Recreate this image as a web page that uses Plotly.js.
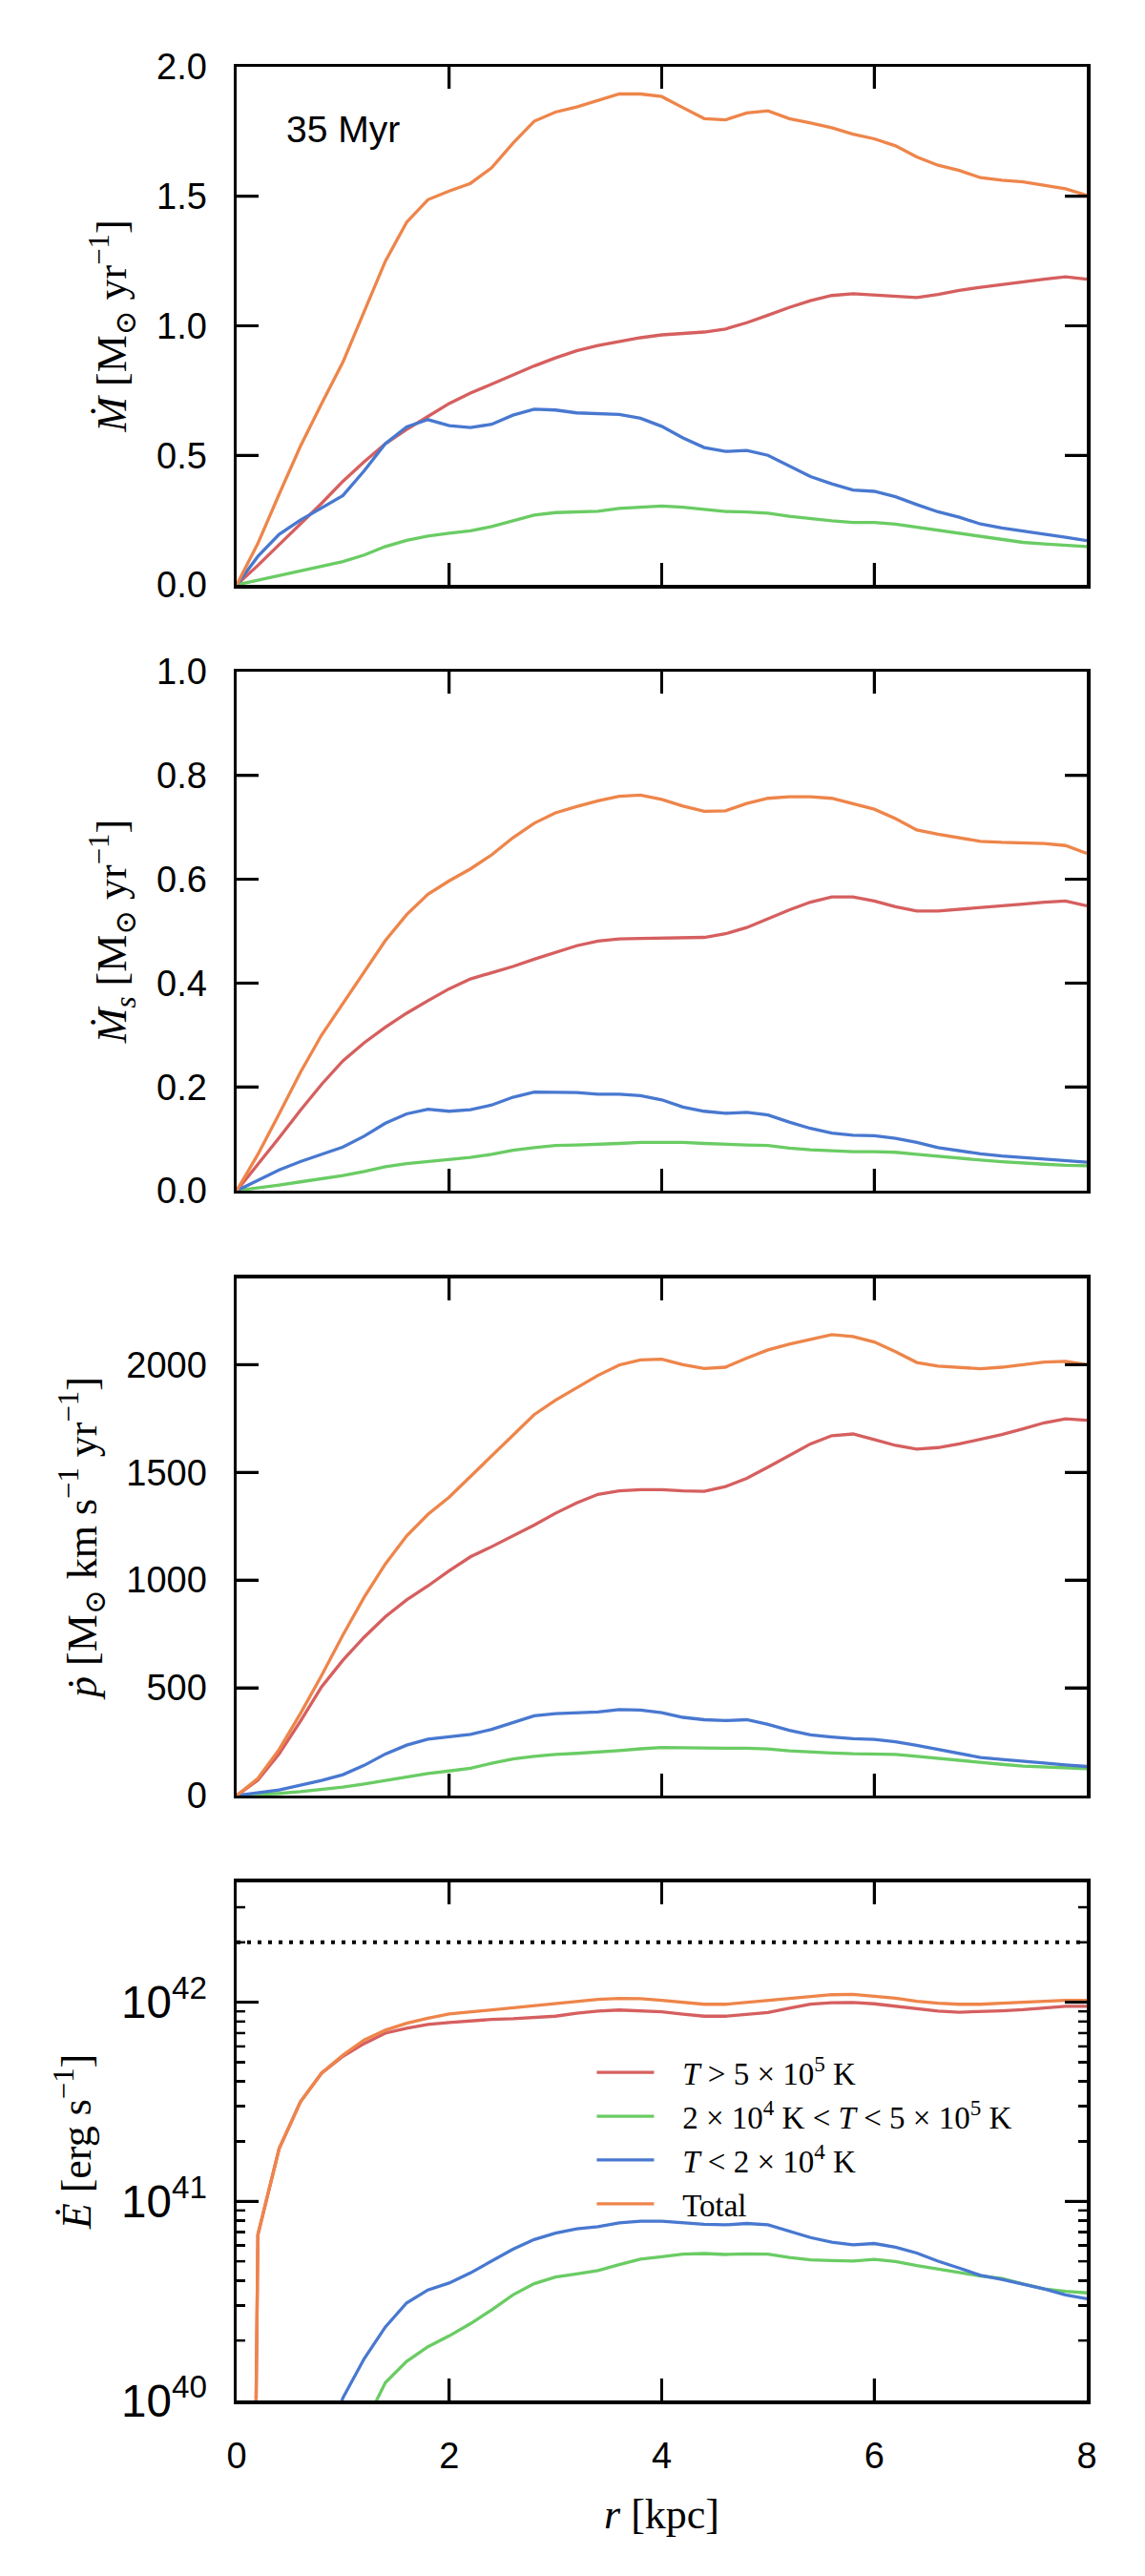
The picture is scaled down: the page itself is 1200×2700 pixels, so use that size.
<!DOCTYPE html>
<html>
<head>
<meta charset="utf-8">
<script src="https://cdn.plot.ly/plotly-3.0.1.min.js"></script>
<style>
  body { margin: 0; background: #fff; }
  #chart { width: 1200px; height: 2700px; }
</style>
</head>
<body>
<div id="chart"></div>
<script>
// radius grid shared by every panel [kpc]
var r = [0, 0.2, 0.4, 0.6, 0.8, 1.0, 1.2, 1.4, 1.6, 1.8, 2.0, 2.2, 2.4, 2.6, 2.8,
  3.0, 3.2, 3.4, 3.6, 3.8, 4.0, 4.2, 4.4, 4.6, 4.8, 5.0, 5.2, 5.4, 5.6, 5.8,
  6.0, 6.2, 6.4, 6.6, 6.8, 7.0, 7.2, 7.4, 7.6, 7.8, 8.0];

// mass outflow rate [Msun/yr]
var mdotHot = [0, 0.075, 0.155, 0.235, 0.315, 0.40, 0.475, 0.545, 0.60, 0.65, 0.70, 0.74, 0.775, 0.808, 0.845,
  0.876, 0.904, 0.924, 0.94, 0.954, 0.965, 0.971, 0.976, 0.988, 1.012, 1.041, 1.071, 1.097, 1.117, 1.124,
  1.119, 1.111, 1.109, 1.121, 1.137, 1.149, 1.16, 1.17, 1.18, 1.189, 1.18];
var mdotWarm = [0, 0.018, 0.036, 0.056, 0.075, 0.09, 0.115, 0.148, 0.172, 0.188, 0.199, 0.209, 0.225, 0.246, 0.269,
  0.279, 0.281, 0.284, 0.295, 0.301, 0.304, 0.30, 0.29, 0.283, 0.281, 0.277, 0.265, 0.255, 0.247, 0.241,
  0.241, 0.234, 0.222, 0.211, 0.20, 0.186, 0.174, 0.164, 0.158, 0.152, 0.148];
var mdotCold = [0, 0.11, 0.195, 0.25, 0.297, 0.345, 0.44, 0.545, 0.61, 0.638, 0.615, 0.607, 0.62, 0.655, 0.678,
  0.675, 0.664, 0.66, 0.658, 0.643, 0.612, 0.567, 0.53, 0.515, 0.519, 0.50, 0.46, 0.418, 0.39, 0.366,
  0.361, 0.34, 0.31, 0.282, 0.261, 0.235, 0.22, 0.209, 0.196, 0.184, 0.171];
var mdotTotal = [0, 0.16, 0.35, 0.535, 0.70, 0.86, 1.055, 1.25, 1.40, 1.487, 1.52, 1.55, 1.61, 1.705, 1.79,
  1.825, 1.845, 1.87, 1.895, 1.895, 1.885, 1.842, 1.80, 1.795, 1.822, 1.83, 1.80, 1.783, 1.765, 1.74,
  1.722, 1.695, 1.652, 1.62, 1.60, 1.572, 1.562, 1.556, 1.542, 1.529, 1.504];

// metal outflow rate [Msun/yr]
var msdotHot = [0, 0.05, 0.102, 0.155, 0.205, 0.25, 0.285, 0.315, 0.342, 0.366, 0.389, 0.408, 0.42, 0.432, 0.446,
  0.459, 0.472, 0.481, 0.485, 0.486, 0.487, 0.487, 0.488, 0.495, 0.507, 0.524, 0.541, 0.556, 0.566, 0.566,
  0.558, 0.547, 0.539, 0.539, 0.542, 0.545, 0.549, 0.552, 0.556, 0.558, 0.549];
var msdotWarm = [0, 0.005, 0.011, 0.017, 0.023, 0.029, 0.037, 0.046, 0.052, 0.056, 0.06, 0.064, 0.07, 0.078, 0.083,
  0.087, 0.088, 0.089, 0.091, 0.093, 0.093, 0.093, 0.091, 0.089, 0.088, 0.087, 0.082, 0.079, 0.077, 0.075,
  0.075, 0.074, 0.07, 0.066, 0.063, 0.059, 0.056, 0.053, 0.051, 0.049, 0.048];
var msdotCold = [0, 0.02, 0.04, 0.056, 0.07, 0.084, 0.105, 0.13, 0.148, 0.157, 0.153, 0.156, 0.165, 0.18, 0.19,
  0.19, 0.189, 0.186, 0.186, 0.183, 0.175, 0.161, 0.153, 0.149, 0.151, 0.146, 0.132, 0.12, 0.111, 0.107,
  0.106, 0.101, 0.093, 0.083, 0.077, 0.071, 0.067, 0.064, 0.062, 0.059, 0.055];
var msdotTotal = [0, 0.07, 0.148, 0.228, 0.30, 0.36, 0.42, 0.482, 0.532, 0.571, 0.597, 0.62, 0.647, 0.68, 0.708,
  0.728, 0.74, 0.751, 0.76, 0.762, 0.754, 0.741, 0.731, 0.732, 0.746, 0.756, 0.759, 0.759, 0.756, 0.745,
  0.735, 0.717, 0.695, 0.687, 0.68, 0.673, 0.671, 0.67, 0.669, 0.665, 0.65];

// momentum outflow rate [Msun km/s /yr]
var pdotHot = [0, 72, 194, 345, 505, 628, 735, 830, 908, 973, 1043, 1108, 1155, 1203, 1255,
  1310, 1358, 1398, 1414, 1420, 1420, 1414, 1412, 1434, 1472, 1524, 1580, 1632, 1670, 1678,
  1652, 1625, 1608, 1615, 1632, 1652, 1675, 1702, 1730, 1748, 1742];
var pdotWarm = [0, 4, 10, 18, 28, 39, 54, 71, 87, 102, 114, 127, 150, 170, 182,
  191, 196, 201, 209, 217, 223, 222, 220, 220, 220, 216, 208, 202, 198, 194,
  194, 191, 182, 172, 162, 152, 145, 137, 132, 128, 125];
var pdotCold = [0, 12, 26, 48, 70, 97, 140, 193, 234, 262, 272, 284, 307, 338, 370,
  380, 385, 388, 399, 397, 385, 363, 352, 348, 352, 330, 303, 282, 272, 264,
  261, 250, 233, 215, 195, 177, 168, 161, 151, 142, 135];
var pdotTotal = [0, 80, 214, 380, 558, 745, 920, 1075, 1205, 1305, 1385, 1480, 1580, 1673, 1768,
  1835, 1893, 1950, 1998, 2022, 2025, 2000, 1982, 1988, 2030, 2068, 2095, 2117, 2139, 2130,
  2105, 2060, 2010, 1993, 1987, 1981, 1988, 2001, 2012, 2015, 2000];

// energy outflow rate [1e40 erg/s]; values at small r lie below the plotted range
var edotHot = [1e-9, 6.8, 18.4, 31.6, 44.0, 53.5, 62.0, 70.0, 74.1, 77.4, 79.1, 80.7, 82.0, 82.6, 83.6,
  85.1, 88.1, 90.2, 91.4, 90.8, 89.5, 87.1, 85.1, 85.1, 86.5, 88.7, 93.3, 97.7, 99.5, 99.8,
  98.2, 95.5, 92.3, 90.2, 89.1, 89.5, 90.6, 91.8, 93.8, 95.5, 95.5];
var edotWarm = [0.005, 0.01, 0.02, 0.05, 0.12, 0.3, 0.75, 1.23, 1.57, 1.86, 2.11, 2.43, 2.85, 3.39, 3.86,
  4.17, 4.32, 4.49, 4.81, 5.13, 5.27, 5.43, 5.47, 5.41, 5.45, 5.43, 5.22, 5.08, 5.04, 5.01,
  5.11, 4.99, 4.76, 4.55, 4.39, 4.22, 4.10, 3.85, 3.63, 3.53, 3.47];
var edotCold = [0.01, 0.03, 0.08, 0.2, 0.5, 1.03, 1.62, 2.34, 3.09, 3.59, 3.89, 4.37, 5.01, 5.75, 6.43,
  6.92, 7.28, 7.45, 7.80, 7.94, 7.94, 7.82, 7.66, 7.62, 7.74, 7.62, 7.08, 6.58, 6.24, 6.05,
  6.14, 5.89, 5.50, 5.01, 4.62, 4.25, 4.05, 3.85, 3.63, 3.39, 3.24];
var edotTotal = [1e-9, 6.8, 18.4, 31.6, 44.2, 54.3, 64.6, 72.4, 78.5, 83.2, 87.3, 89.5, 91.2, 93.8, 96.4,
  98.9, 101.6, 103.3, 104.5, 104.2, 102.3, 100, 97.7, 97.7, 100, 102.3, 104.7, 107.2, 109.1, 109.6,
  107.6, 104.7, 101.2, 98.9, 97.7, 97.7, 98.9, 100, 101.4, 102.3, 102.3];
var edotInjected = 2e42;

// inner tick positions (the ones on the frame corners are left to the axis lines)
var xTickVals = [2, 4, 6];
var yTickVals = [[0.5, 1.0, 1.5], [0.2, 0.4, 0.6, 0.8], [500, 1000, 1500, 2000]];
var logRange = [40, 42.602];

var seriesNames = [
  "\u00a0\u00a0\u00a0<i>T</i> > 5 × 10<sup>5</sup> K",
  "\u00a0\u00a0\u00a02 × 10<sup>4</sup> K < <i>T</i> < 5 × 10<sup>5</sup> K",
  "\u00a0\u00a0\u00a0<i>T</i> < 2 × 10<sup>4</sup> K",
  "\u00a0\u00a0\u00a0Total"
];
var seriesColors = ["#d65f5f", "#6acc64", "#4878d0", "#ee854a"];

var panels = [
  [mdotHot, mdotWarm, mdotCold, mdotTotal],
  [msdotHot, msdotWarm, msdotCold, msdotTotal],
  [pdotHot, pdotWarm, pdotCold, pdotTotal],
  [edotHot, edotWarm, edotCold, edotTotal].map(function (s) {
    return s.map(function (v) { return v * 1e40; });
  })
];

var SANS = "Liberation Sans, Arial, sans-serif";
var SERIF = "Liberation Serif, DejaVu Serif, serif";

// plotly ids: first subplot is x / y, the rest x2, y2 ...
function sid(n) { return n === 1 ? "" : String(n); }

var traces = [];
panels.forEach(function (set, p) {
  set.forEach(function (vals, i) {
    traces.push({
      x: r,
      y: vals,
      type: "scatter",
      mode: "lines",
      name: seriesNames[i],
      line: { color: seriesColors[i], width: 3.3 },
      showlegend: p === 3,
      xaxis: "x" + sid(p + 1),
      yaxis: "y" + sid(p + 1),
    });
  });
});

traces.push({
  x: [0, 8],
  y: [edotInjected, edotInjected],
  type: "scatter",
  mode: "lines",
  line: { color: "#000", width: 4, dash: "4px,7px" },
  showlegend: false,
  xaxis: "x4",
  yaxis: "y4",
});

// tick marks drawn as pixel-sized shapes pinned to each frame
var shapes = [];
function xTick(n, v, len, w) {
  [[0, len], [1, -len]].forEach(function (s) {
    shapes.push({ type: "line", layer: "above", xref: "x" + sid(n), yref: "y" + sid(n) + " domain",
      x0: v, x1: v, ysizemode: "pixel", yanchor: s[0], y0: 0, y1: s[1],
      line: { color: "#000", width: w } });
  });
}
function yTick(n, frac, len, w) {
  [[0, len], [1, -len]].forEach(function (s) {
    shapes.push({ type: "line", layer: "above", xref: "x" + sid(n) + " domain", yref: "y" + sid(n) + " domain",
      y0: frac, y1: frac, xsizemode: "pixel", xanchor: s[0], x0: 0, x1: s[1],
      line: { color: "#000", width: w } });
  });
}
for (var n = 1; n <= 4; n++) {
  xTickVals.forEach(function (v) { xTick(n, v, 23, 3); });
}
var linRanges = [[0, 2], [0, 1], [0, 2400]];
yTickVals.forEach(function (vals, p) {
  vals.forEach(function (v) {
    yTick(p + 1, (v - linRanges[p][0]) / (linRanges[p][1] - linRanges[p][0]), 23, 3);
  });
});
for (var dec = 40; dec <= 42; dec++) {
  for (var d = 1; d <= 9; d++) {
    var lg = dec + Math.log10(d);
    if (lg <= logRange[0] || lg >= logRange[1]) continue;
    yTick(4, (lg - logRange[0]) / (logRange[1] - logRange[0]), d === 1 ? 23 : 9, d === 1 ? 3 : 2.5);
  }
}

function xAxis(n, labels) {
  return {
    anchor: "y" + sid(n),
    domain: [0, 1],
    range: [0, 8],
    dtick: 2,
    ticks: "inside",
    ticklen: 23,
    tickwidth: 3,
    tickcolor: "#000",
    showline: true,
    linewidth: 3.5,
    linecolor: "#000",
    mirror: "allticks",
    showgrid: false,
    zeroline: false,
    showticklabels: labels,
    ticklabelstandoff: 22,
    tickfont: { family: SANS, size: 38, color: "#000" },
    title: labels ? {
      text: "<i>r</i> [kpc]",
      font: { family: SERIF, size: 44, color: "#000" },
      standoff: 26,
    } : { text: "" },
  };
}

function yAxis(n, dom, title, extra) {
  var ax = {
    anchor: "x" + sid(n),
    domain: dom,
    ticks: "inside",
    ticklen: 23,
    tickwidth: 3,
    tickcolor: "#000",
    showline: true,
    linewidth: 3.5,
    linecolor: "#000",
    mirror: "allticks",
    showgrid: false,
    zeroline: false,
    ticklabelstandoff: 20,
    tickfont: { family: SANS, size: 38, color: "#000" },
    title: {
      text: title,
      font: { family: SERIF, size: 44, color: "#000" },
      standoff: 18,
    },
  };
  for (var k in extra) ax[k] = extra[k];
  return ax;
}

var layout = {
  width: 1200,
  height: 2700,
  margin: { l: 248, r: 61, t: 70, b: 184 },
  paper_bgcolor: "#fff",
  plot_bgcolor: "#fff",
  showlegend: true,
  legend: {
    x: 0.418,
    y: 0.152,
    xanchor: "left",
    yanchor: "top",
    bgcolor: "rgba(0,0,0,0)",
    font: { family: SERIF, size: 33, color: "#000" },
    itemwidth: 60,
  },
  xaxis: xAxis(1, false),
  xaxis2: xAxis(2, false),
  xaxis3: xAxis(3, false),
  xaxis4: xAxis(4, true),
  yaxis: yAxis(1, [0.778, 1], "<i>Ṁ</i> [M<sub>⊙</sub> yr<sup>−1</sup>]",
    { range: linRanges[0], dtick: 0.5, tickformat: ".1f" }),
  yaxis2: yAxis(2, [0.5184, 0.7408], "<i>Ṁ<sub>s</sub></i> [M<sub>⊙</sub> yr<sup>−1</sup>]",
    { range: linRanges[1], dtick: 0.2, tickformat: ".1f" }),
  yaxis3: yAxis(3, [0.2592, 0.4808], "<i>ṗ</i> [M<sub>⊙</sub> km s<sup>−1</sup> yr<sup>−1</sup>]",
    { range: linRanges[2], dtick: 500 }),
  yaxis4: yAxis(4, [0, 0.222], "<i>Ė</i> [erg s<sup>−1</sup>]",
    {
      type: "log",
      range: logRange,
      dtick: 1,
      minor: { ticks: "inside", ticklen: 9, tickwidth: 2.5, tickcolor: "#000", dtick: "D1", showgrid: false },
    }),
  shapes: shapes,
  annotations: [{
    text: "35 Myr",
    xref: "x",
    yref: "y",
    x: 0.45,
    y: 1.757,
    xanchor: "left",
    yanchor: "middle",
    showarrow: false,
    font: { family: SANS, size: 39, color: "#000" },
  }],
};

Plotly.newPlot("chart", traces, layout, { staticPlot: true });
</script>
</body>
</html>
